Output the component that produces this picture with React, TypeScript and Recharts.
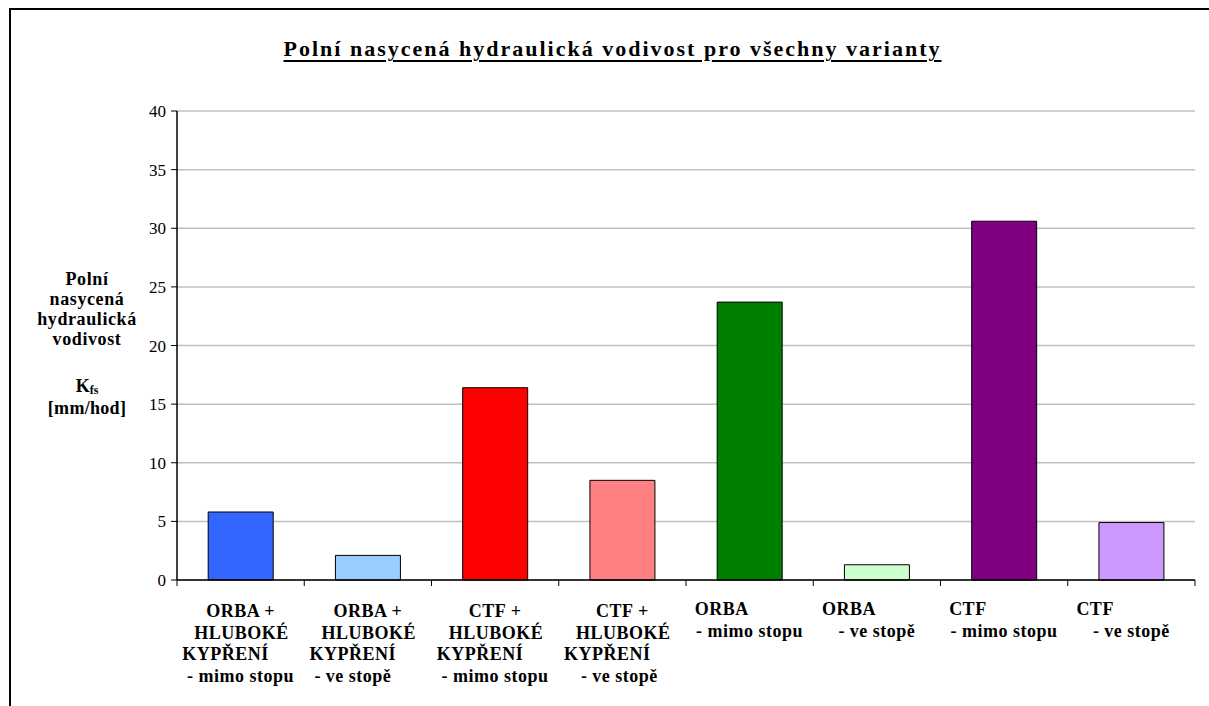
import React from "react";
import { BarChart, Bar, XAxis, YAxis, CartesianGrid, Cell } from "recharts";

const categoryLines: string[][] = [
  ["ORBA +", "HLUBOKÉ", "KYPŘENÍ", "- mimo stopu"],
  ["ORBA +", "HLUBOKÉ", "KYPŘENÍ", "- ve stopě"],
  ["CTF +", "HLUBOKÉ", "KYPŘENÍ", "- mimo stopu"],
  ["CTF +", "HLUBOKÉ", "KYPŘENÍ", "- ve stopě"],
  ["ORBA", "- mimo stopu"],
  ["ORBA", "- ve stopě"],
  ["CTF", "- mimo stopu"],
  ["CTF", "- ve stopě"],
];
const kfsValues = [5.8, 2.1, 16.4, 8.5, 23.7, 1.3, 30.6, 4.9];
const barColors = ["#3366FF", "#99CCFF", "#FF0000", "#FF8080", "#008000", "#CCFFCC", "#800080", "#CC99FF"];
const yTicks = [0, 5, 10, 15, 20, 25, 30, 35, 40];
const titleText = "Polní nasycená hydraulická vodivost pro všechny varianty";
const yLabelLines = ["Polní", "nasycená", "hydraulická", "vodivost"];

const data = categoryLines.map((lines, i) => ({
  name: lines.join(" ") + " #" + i,
  value: kfsValues[i],
}));

const FONT = "'Liberation Serif', 'Times New Roman', serif";

const XTick = (props: any) => {
  const { x, y, index, payload } = props;
  const lines = categoryLines[index] || [];
  const off = payload && typeof payload.offset === "number" && payload.offset > 0 ? payload.offset : 63.6;
  const axisY = y - 6;
  const isLast = index === categoryLines.length - 1;
  const line4Dx = [0, -15, 0, -3];
  const common = { fontFamily: FONT, fontWeight: "bold" as const, fontSize: 18, letterSpacing: 0.5, fill: "#000" };
  const texts: React.ReactNode[] = [];
  if (lines.length === 4) {
    const dys = [37, 58.5, 80, 101.5];
    const dxs = [0, 1, -15, line4Dx[index] ?? 0];
    lines.forEach((t, k) => {
      texts.push(
        <text key={k} x={x + dxs[k]} y={axisY + dys[k]} textAnchor="middle" {...common}>
          {t}
        </text>
      );
    });
  } else {
    texts.push(
      <text key={0} x={x - 55} y={axisY + 35} textAnchor="start" {...common}>
        {lines[0]}
      </text>
    );
    texts.push(
      <text key={1} x={x} y={axisY + 57} textAnchor="middle" {...common}>
        {lines[1]}
      </text>
    );
  }
  return (
    <g>
      <line x1={x - off} y1={axisY} x2={x - off} y2={axisY + 6} stroke="#000" strokeWidth={1} />
      {isLast && <line x1={x + off} y1={axisY} x2={x + off} y2={axisY + 6} stroke="#000" strokeWidth={1} />}
      {texts}
    </g>
  );
};

export default function App() {
  return (
    <div style={{ position: "fixed", left: 0, top: 0, width: 1209, height: 706, background: "#fff", overflow: "hidden" }}>
      <div
        style={{
          position: "absolute",
          left: 9,
          top: 8,
          width: 1300,
          height: 800,
          borderLeft: "2px solid #000",
          borderTop: "2px solid #000",
          boxSizing: "border-box",
        }}
      />
      <div
        style={{
          position: "absolute",
          left: 0,
          width: 1209,
          top: 36,
          textAlign: "center",
          fontFamily: FONT,
          fontWeight: "bold",
          fontSize: 22,
          letterSpacing: 2,
          lineHeight: "26px",
          paddingLeft: 16,
          boxSizing: "border-box",
          textDecoration: "underline",
          textDecorationThickness: "2px",
          textUnderlineOffset: "4px",
        }}
      >
        {titleText}
      </div>
      <div style={{ position: "absolute", left: 0, top: 0 }}>
        <BarChart
          width={1209}
          height={706}
          data={data}
          margin={{ top: 111, right: 14, bottom: 0, left: 0 }}
          barCategoryGap="24.5%"
        >
          <CartesianGrid vertical={false} stroke="#c0c0c0" strokeWidth={1.5} />
          <XAxis
            dataKey="name"
            interval={0}
            tickLine={false}
            tickSize={6}
            tickMargin={0}
            axisLine={{ stroke: "#000", strokeWidth: 1.5 }}
            tick={<XTick />}
            height={126}
          />
          <YAxis
            domain={[0, 40]}
            ticks={yTicks}
            width={177}
            interval={0}
            tickSize={6}
            tickMargin={5}
            axisLine={{ stroke: "#000", strokeWidth: 1.5 }}
            tickLine={{ stroke: "#000" }}
            tick={{ fontFamily: FONT, fontSize: 17, fill: "#000" }}
          />
          <Bar dataKey="value" isAnimationActive={false} stroke="#000" strokeWidth={1}>
            {data.map((_, i) => (
              <Cell key={i} fill={barColors[i]} />
            ))}
          </Bar>
        </BarChart>
      </div>
      <svg style={{ position: "absolute", left: 0, top: 0, pointerEvents: "none" }} width={200} height={706}>
        {yLabelLines.map((t, i) => (
          <text key={i} x={87} y={285 + i * 20} textAnchor="middle" fontFamily={FONT} fontWeight="bold" fontSize={18} letterSpacing={0.6} fill="#000">
            {t}
          </text>
        ))}
        <text x={87} y={392} textAnchor="middle" fontFamily={FONT} fontWeight="bold" fill="#000">
          <tspan fontSize={18}>K</tspan>
          <tspan fontSize={12} dy={2}>fs</tspan>
        </text>
        <text x={87} y={414} textAnchor="middle" fontFamily={FONT} fontWeight="bold" fontSize={18} letterSpacing={0.3} fill="#000">
          [mm/hod]
        </text>
      </svg>
    </div>
  );
}
